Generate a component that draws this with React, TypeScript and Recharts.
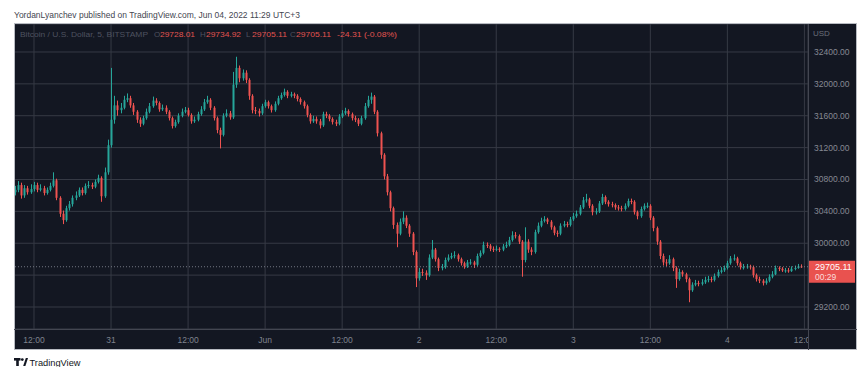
import React from 'react';
import { ComposedChart, Bar, XAxis, YAxis, CartesianGrid, ReferenceLine } from 'recharts';

// ---- data (30-minute candles, time in hours relative to 30 May 12:00, UTC+3) ----
const startHour = -3;
const stepHours = 0.5;
const firstOpen = 30640;

const closes = [
  30670, 30730, 30600, 30690, 30640, 30680, 30730, 30670, 30690, 30630,
  30670, 30720, 30790, 30570, 30370, 30290, 30440, 30490, 30570, 30600,
  30670, 30630, 30720, 30730, 30710, 30770, 30820, 30590, 30890, 31230,
  31550, 31730, 31670, 31700, 31800, 31820, 31730, 31650, 31550, 31500,
  31570, 31650, 31720, 31790, 31760, 31680, 31700, 31650, 31570, 31470,
  31520, 31600, 31650, 31670, 31610, 31530, 31550, 31620, 31680, 31770,
  31800, 31700, 31570, 31420, 31360, 31600, 31630, 31580, 31990, 32200,
  32070, 32140, 32050, 31850, 31670, 31660, 31630, 31720, 31770, 31720,
  31670, 31750, 31820, 31860, 31900, 31850, 31870, 31850, 31810, 31770,
  31720, 31610, 31530, 31560, 31530, 31480, 31620, 31600, 31560, 31520,
  31500, 31590, 31630, 31660, 31620, 31570, 31550, 31500, 31570, 31720,
  31800, 31840, 31650, 31380, 31110, 30840, 30640, 30440, 30230, 30120,
  30270, 30320, 30220, 30120, 29890, 29560, 29640, 29630, 29600, 29820,
  29920, 29800, 29690, 29700, 29790, 29820, 29840, 29850, 29800, 29750,
  29710, 29760, 29760, 29730, 29840, 29880, 29980, 29970, 29930, 29920,
  29930, 29920, 29960, 29980, 30040, 30100, 30090, 30020, 29790, 30020,
  29920, 29890, 30140, 30220, 30280, 30300, 30270, 30200, 30130, 30120,
  30220, 30240, 30230, 30300, 30340, 30370, 30450, 30540, 30550, 30470,
  30390, 30400, 30500, 30580, 30520, 30490, 30480, 30450, 30440, 30430,
  30470, 30530, 30520, 30390, 30340, 30430, 30470, 30470, 30320, 30190,
  30020, 29840, 29760, 29750, 29800, 29690, 29550, 29640, 29610, 29550,
  29410, 29480, 29500, 29490, 29510, 29540, 29550, 29540, 29590, 29640,
  29660, 29690, 29750, 29810, 29810, 29750, 29700, 29700, 29710, 29700,
  29600, 29550, 29530, 29500, 29530, 29580, 29610, 29690, 29680, 29660,
  29660, 29650, 29680, 29690, 29710, 29705.11,
];

const highs = [
  30720, 30780, 30760, 30730, 30720, 30740, 30770, 30760, 30740, 30720,
  30700, 30760, 30890, 30810, 30590, 30410, 30470, 30530, 30600, 30650,
  30700, 30700, 30750, 30780, 30760, 30800, 30860, 30840, 30950, 31300,
  32200, 31850, 31790, 31760, 31850, 31880, 31850, 31760, 31670, 31580,
  31600, 31690, 31760, 31840, 31820, 31780, 31740, 31730, 31670, 31590,
  31550, 31630, 31690, 31710, 31700, 31630, 31590, 31650, 31720, 31810,
  31850, 31820, 31720, 31590, 31450, 31630, 31680, 31660, 32150, 32340,
  32230, 32180, 32170, 32070, 31870, 31710, 31690, 31750, 31800, 31790,
  31740, 31780, 31850, 31890, 31940, 31920, 31900, 31890, 31870, 31830,
  31790, 31740, 31630, 31600, 31590, 31560, 31650, 31650, 31620, 31580,
  31550, 31620, 31670, 31700, 31680, 31640, 31600, 31570, 31600, 31760,
  31850, 31890, 31860, 31670, 31400, 31130, 30870, 30660, 30460, 30260,
  30310, 30400, 30350, 30240, 30140, 29910, 29690, 29680, 29660, 29860,
  30040, 29940, 29820, 29740, 29820, 29860, 29880, 29900, 29870, 29820,
  29770, 29790, 29800, 29780, 29870, 29910, 30020, 30010, 29990, 29960,
  29970, 29950, 29990, 30020, 30080, 30150, 30140, 30110, 30040, 30200,
  30050, 29950, 30170, 30260, 30320, 30340, 30320, 30290, 30220, 30160,
  30250, 30280, 30270, 30330, 30380, 30410, 30480, 30580, 30620, 30570,
  30490, 30440, 30530, 30620, 30600, 30540, 30520, 30500, 30480, 30470,
  30500, 30560, 30560, 30540, 30410, 30460, 30500, 30510, 30490, 30340,
  30210, 30040, 29870, 29800, 29850, 29820, 29710, 29680, 29660, 29630,
  29570, 29510, 29540, 29530, 29550, 29580, 29590, 29580, 29620, 29670,
  29700, 29720, 29780, 29840, 29860, 29830, 29770, 29740, 29740, 29730,
  29720, 29620, 29580, 29550, 29560, 29610, 29650, 29720, 29710, 29700,
  29690, 29690, 29710, 29720, 29740, 29734.92,
];

const lows = [
  30600, 30640, 30560, 30570, 30610, 30620, 30650, 30640, 30650, 30600,
  30610, 30650, 30700, 30540, 30330, 30240, 30270, 30410, 30460, 30540,
  30580, 30600, 30610, 30690, 30680, 30690, 30750, 30520, 30570, 30860,
  31200, 31500, 31600, 31630, 31680, 31770, 31700, 31610, 31510, 31460,
  31480, 31550, 31630, 31700, 31730, 31650, 31660, 31620, 31540, 31440,
  31450, 31500, 31580, 31630, 31590, 31500, 31510, 31530, 31600, 31660,
  31750, 31670, 31540, 31380, 31190, 31340, 31580, 31550, 31560, 31950,
  32020, 32040, 32010, 31800, 31630, 31620, 31590, 31610, 31700, 31690,
  31640, 31650, 31730, 31800, 31840, 31820, 31830, 31820, 31780, 31740,
  31690, 31580, 31500, 31510, 31500, 31440, 31460, 31570, 31530, 31490,
  31470, 31480, 31570, 31610, 31590, 31540, 31520, 31470, 31480, 31550,
  31700, 31750, 31620, 31340, 31060, 30800, 30600, 30400, 30180, 29950,
  30100, 30240, 30190, 30080, 29850, 29450, 29530, 29590, 29540, 29580,
  29800, 29770, 29650, 29660, 29680, 29770, 29800, 29810, 29770, 29720,
  29680, 29690, 29730, 29690, 29710, 29820, 29860, 29940, 29900, 29890,
  29900, 29890, 29900, 29940, 29960, 30020, 30060, 29990, 29580, 29760,
  29880, 29850, 29870, 30120, 30200, 30260, 30240, 30170, 30100, 30080,
  30100, 30200, 30200, 30210, 30280, 30320, 30350, 30430, 30510, 30440,
  30350, 30360, 30380, 30480, 30490, 30460, 30450, 30420, 30410, 30400,
  30410, 30450, 30490, 30360, 30300, 30320, 30410, 30440, 30290, 30150,
  29980, 29800, 29720, 29710, 29730, 29650, 29440, 29530, 29580, 29510,
  29260, 29390, 29460, 29460, 29470, 29490, 29510, 29510, 29520, 29570,
  29620, 29640, 29670, 29730, 29780, 29720, 29670, 29670, 29680, 29670,
  29570, 29520, 29500, 29470, 29480, 29510, 29560, 29600, 29650, 29640,
  29630, 29630, 29640, 29660, 29680, 29690,
];

const timeTicks = [0, 12, 24, 36, 48, 60, 72, 84, 96, 108, 120];
const timeLabels = ['12:00', '31', '12:00', 'Jun', '12:00', '2', '12:00', '3', '12:00', '4', '12:00'];
const priceTicks = [29200, 29600, 30000, 30400, 30800, 31200, 31600, 32000, 32400];
const lastPrice = 29705.11;
const countdown = '00:29';
const legendLetters = ['O', 'H', 'L', 'C'];
const legendValues = ['29728.01', '29734.92', '29705.11', '29705.11'];
const legendChange = '-24.31 (-0.08%)';
const symbolTitle = 'Bitcoin / U.S. Dollar, 5, BITSTAMP';
const attribution = 'YordanLyanchev published on TradingView.com, Jun 04, 2022 11:29 UTC+3';

const data = closes.map((c, i) => ({
  t: startHour + i * stepHours,
  open: i === 0 ? firstOpen : closes[i - 1],
  close: c,
  high: highs[i],
  low: lows[i],
  range: [lows[i], highs[i]],
}));

// ---- layout / style ----
const FONT = '"Liberation Sans", Arial, sans-serif';
const UP = '#26a69a';
const DOWN = '#ef5350';
const BG = '#131722';
const GRID = '#363a45';
const CHART_LEFT = 14;
const CHART_TOP = 24;
const CHART_W = 843;
const CHART_H = 326;
const Y_AXIS_W = 49;
const X_AXIS_H = 21;
const PLOT_W = CHART_W - Y_AXIS_W;
const T_DOMAIN: [number, number] = [-3.115, 120.56];
const P_DOMAIN: [number, number] = [28924, 32751];

const Candle = (props: any) => {
  const { x, y, width, height, payload } = props;
  if (x == null || y == null || !payload) return null;
  const { open, close, high, low } = payload;
  const top0 = Math.min(y, y + height);
  const h = Math.abs(height);
  const ratio = high === low ? 0 : h / (high - low);
  const bTop = top0 + (high - Math.max(open, close)) * ratio;
  const bBot = top0 + (high - Math.min(open, close)) * ratio;
  const color = close >= open ? UP : DOWN;
  const px = Math.round(x + width / 2);
  return (
    <g>
      <line x1={px + 0.5} x2={px + 0.5} y1={top0} y2={top0 + h} stroke={color} strokeWidth={1} />
      <rect x={px - 0.5} y={bTop} width={2} height={Math.max(1, bBot - bTop)} fill={color} />
    </g>
  );
};

const TimeTick = (props: any) => {
  const { x, y, payload } = props;
  const i = timeTicks.indexOf(payload.value);
  return (
    <svg x={0} y={y} width={PLOT_W} height={20} overflow="hidden">
      <text x={x} y={14} textAnchor="middle" fontSize={8.5} fill="#7f838e" fontFamily={FONT}>
        {timeLabels[i]}
      </text>
    </svg>
  );
};

const PriceTick = (props: any) => {
  const { x, y, payload } = props;
  if (Math.abs(payload.value - 29600) < 1) return <g />;
  return (
    <text x={x} y={y + 3} textAnchor="start" fontSize={8.5} fill="#868993" fontFamily={FONT}>
      {payload.value.toFixed(2)}
    </text>
  );
};

const PriceTag = (props: any) => {
  const vb = props.viewBox;
  if (!vb) return null;
  const x = vb.x + vb.width;
  const y = vb.y;
  return (
    <g>
      <rect x={x} y={y - 6} width={47} height={22} fill="#e9524f" />
      <text x={x + 7} y={y + 3} fill="#ffffff" fontSize={9} fontFamily={FONT}>
        {lastPrice.toFixed(2)}
      </text>
      <text x={x + 7} y={y + 13.5} fill="#fbdcdb" fontSize={8.5} fontFamily={FONT}>
        {countdown}
      </text>
    </g>
  );
};

const legendX = [154, 200, 246, 290];

export default function App() {
  return (
    <div
      style={{
        position: 'absolute',
        left: 0,
        top: 0,
        width: 868,
        height: 367,
        background: '#ffffff',
        overflow: 'hidden',
        fontFamily: FONT,
      }}
    >
      <div style={{ position: 'absolute', left: 14, top: 23, width: 843, height: 327, background: BG }} />
      <div style={{ position: 'absolute', left: CHART_LEFT, top: CHART_TOP }}>
        <ComposedChart width={CHART_W} height={CHART_H} data={data} margin={{ top: 0, right: 0, bottom: 0, left: 0 }}>
          <CartesianGrid stroke={GRID} strokeWidth={1} />
          <XAxis
            dataKey="t"
            type="number"
            domain={T_DOMAIN}
            ticks={timeTicks}
            allowDataOverflow
            height={X_AXIS_H}
            tickLine={false}
            axisLine={false}
            tickSize={0}
            tickMargin={0}
            interval={0}
            tick={<TimeTick />}
          />
          <YAxis
            orientation="right"
            type="number"
            domain={P_DOMAIN}
            ticks={priceTicks}
            allowDataOverflow
            width={Y_AXIS_W}
            tickLine={false}
            axisLine={false}
            tickSize={0}
            tickMargin={6}
            interval={0}
            tick={<PriceTick />}
          />
          <Bar dataKey="range" barSize={3} shape={<Candle />} isAnimationActive={false} />
          <ReferenceLine y={lastPrice} stroke="#8b8f9a" strokeOpacity={0.8} strokeDasharray="1 2" label={<PriceTag />} />
        </ComposedChart>
      </div>
      <svg width={868} height={367} style={{ position: 'absolute', left: 0, top: 0, pointerEvents: 'none' }}>
        {/* frame */}
        <rect x={14.5} y={23.5} width={842} height={326} fill="none" stroke="#b8bbc2" strokeWidth={1} />
        <line x1={14} x2={857} y1={329.5} y2={329.5} stroke="#434651" strokeWidth={1} />
        <line x1={808.5} x2={808.5} y1={24} y2={350} stroke="#434651" strokeWidth={1} />
        {/* attribution */}
        <text x={14} y={18} fontSize={8.5} fill="#434651" fontFamily={FONT} textLength={286} lengthAdjust="spacingAndGlyphs">
          {attribution}
        </text>
        {/* legend */}
        <text x={20} y={37} fontSize={8} fill="#4e5260" fontFamily={FONT} textLength={128} lengthAdjust="spacingAndGlyphs">
          {symbolTitle}
        </text>
        {legendLetters.map((l, i) => (
          <g key={l}>
            <text x={legendX[i]} y={37} fontSize={8} fill="#4e5260" fontFamily={FONT}>
              {l}
            </text>
            <text x={legendX[i] + 6} y={37} fontSize={8} fill="#e25450" fontFamily={FONT} textLength={35} lengthAdjust="spacingAndGlyphs">
              {legendValues[i]}
            </text>
          </g>
        ))}
        <text x={337} y={37} fontSize={8} fill="#e25450" fontFamily={FONT} textLength={60} lengthAdjust="spacingAndGlyphs">
          {legendChange}
        </text>
        {/* currency label */}
        <text x={813} y={36} fontSize={8} fill="#6b6f7a" fontFamily={FONT}>
          USD
        </text>
        {/* footer logo */}
        <g fill="#131722">
          <rect x={14} y={358} width={6.5} height={2.6} />
          <rect x={16.2} y={358} width={2.6} height={8} />
          <circle cx={22.3} cy={359.6} r={1.4} />
          <polygon points="23.2,366 25.8,358 28,358 25.4,366" />
        </g>
        <text x={29.5} y={365.5} fontSize={9} fill="#131722" fontFamily={FONT} textLength={51} lengthAdjust="spacingAndGlyphs">
          TradingView
        </text>
      </svg>
    </div>
  );
}
